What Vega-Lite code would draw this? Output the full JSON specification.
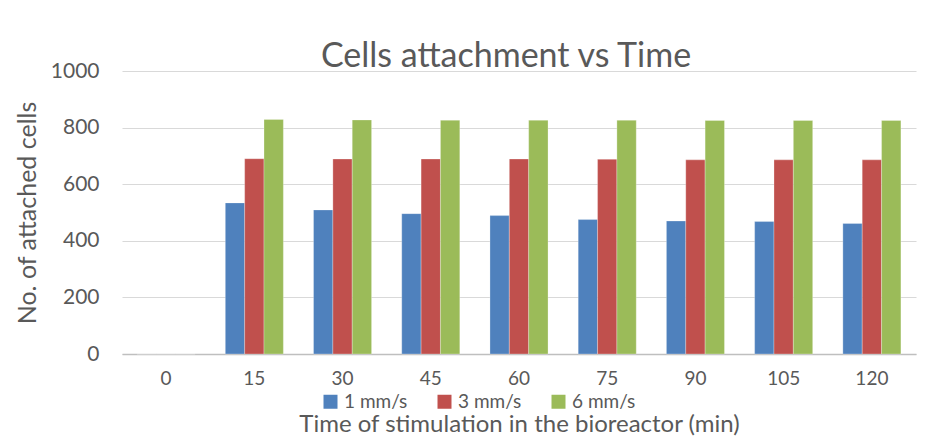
{
  "$schema": "https://vega.github.io/schema/vega-lite/v6.json",
  "width": 794,
  "height": 283,
  "autosize": {"type": "none"},
  "padding": {"left": 122, "top": 71, "right": 27, "bottom": 83},
  "background": "white",
  "title": {
    "text": "Cells attachment vs Time",
    "anchor": "middle",
    "frame": "group",
    "dx": -13,
    "offset": -14,
    "font": "Lato",
    "fontSize": 34,
    "fontWeight": "normal",
    "color": "#595959"
  },
  "data": {
    "values": [
      {"time": 0, "speed": "1 mm/s", "cells": 0},
      {"time": 0, "speed": "3 mm/s", "cells": 0},
      {"time": 0, "speed": "6 mm/s", "cells": 0},
      {"time": 15, "speed": "1 mm/s", "cells": 534},
      {"time": 15, "speed": "3 mm/s", "cells": 690},
      {"time": 15, "speed": "6 mm/s", "cells": 829},
      {"time": 30, "speed": "1 mm/s", "cells": 509},
      {"time": 30, "speed": "3 mm/s", "cells": 689},
      {"time": 30, "speed": "6 mm/s", "cells": 827},
      {"time": 45, "speed": "1 mm/s", "cells": 496},
      {"time": 45, "speed": "3 mm/s", "cells": 689},
      {"time": 45, "speed": "6 mm/s", "cells": 826},
      {"time": 60, "speed": "1 mm/s", "cells": 489},
      {"time": 60, "speed": "3 mm/s", "cells": 689},
      {"time": 60, "speed": "6 mm/s", "cells": 826},
      {"time": 75, "speed": "1 mm/s", "cells": 475},
      {"time": 75, "speed": "3 mm/s", "cells": 688},
      {"time": 75, "speed": "6 mm/s", "cells": 826},
      {"time": 90, "speed": "1 mm/s", "cells": 470},
      {"time": 90, "speed": "3 mm/s", "cells": 686},
      {"time": 90, "speed": "6 mm/s", "cells": 825},
      {"time": 105, "speed": "1 mm/s", "cells": 468},
      {"time": 105, "speed": "3 mm/s", "cells": 686},
      {"time": 105, "speed": "6 mm/s", "cells": 825},
      {"time": 120, "speed": "1 mm/s", "cells": 461},
      {"time": 120, "speed": "3 mm/s", "cells": 686},
      {"time": 120, "speed": "6 mm/s", "cells": 825}
    ]
  },
  "mark": {"type": "bar", "stroke": "white", "strokeOpacity": 0.35, "strokeWidth": 0.8},
  "encoding": {
    "x": {
      "field": "time",
      "type": "ordinal",
      "sort": "ascending",
      "scale": {"paddingInner": 0.342, "paddingOuter": 0.171},
      "axis": {
        "title": "Time of stimulation in the bioreactor (min)",
        "labelAngle": 0,
        "labelFontSize": 19,
        "ticks": false,
        "labelPadding": 15,
        "titlePadding": 24,
        "titleFontSize": 24,
        "domainColor": "#BFBFBF",
        "domainWidth": 1.5
      }
    },
    "xOffset": {"field": "speed", "type": "nominal"},
    "y": {
      "field": "cells",
      "type": "quantitative",
      "scale": {"domain": [0, 1000]},
      "axis": {
        "title": "No. of attached cells",
        "values": [0, 200, 400, 600, 800, 1000],
        "format": "d",
        "ticks": false,
        "domain": false,
        "labelPadding": 23,
        "titlePadding": 10,
        "gridColor": "#D9D9D9",
        "gridWidth": 1.2
      }
    },
    "color": {
      "field": "speed",
      "type": "nominal",
      "scale": {"domain": ["1 mm/s", "3 mm/s", "6 mm/s"], "range": ["#4F81BD", "#C0504D", "#9BBB59"]},
      "legend": {
        "title": null,
        "orient": "none",
        "direction": "horizontal",
        "legendX": 199,
        "legendY": 321,
        "symbolType": "square",
        "symbolSize": 196,
        "symbolStrokeWidth": 0,
        "labelFont": "Lato",
        "labelFontSize": 19,
        "labelColor": "#595959",
        "labelOffset": 4,
        "columnPadding": 27
      }
    }
  },
  "config": {
    "view": {"stroke": null},
    "axis": {
      "labelFont": "Lato",
      "labelFontSize": 21,
      "labelColor": "#595959",
      "titleFont": "Lato",
      "titleFontSize": 25,
      "titleFontWeight": "normal",
      "titleColor": "#595959"
    }
  }
}
